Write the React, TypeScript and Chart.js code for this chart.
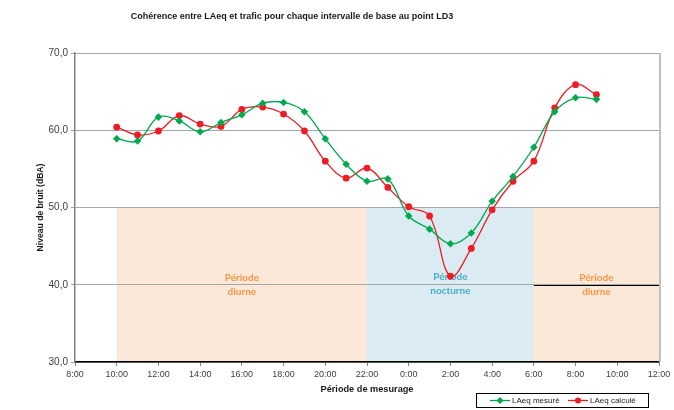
import React, { useEffect, useRef } from 'react';
import { Chart, registerables } from 'chart.js';

Chart.register(...registerables);

const chartTitle = 'Cohérence entre LAeq et trafic pour chaque intervalle de base au point LD3';
const xAxisTitle = 'Période de mesurage';
const yAxisTitle = 'Niveau de bruit (dBA)';
const seriesNames = ['LAeq mesuré', 'LAeq calculé'];

// hours since midnight of day 1 (24 = 0:00 next day)
const hours = [10, 11, 12, 13, 14, 15, 16, 17, 18, 19, 20, 21, 22, 23, 24, 25, 26, 27, 28, 29, 30, 31, 32, 33];
const laeqMesure = [58.9, 58.6, 61.7, 61.2, 59.8, 61.0, 62.0, 63.5, 63.6, 62.4, 58.9, 55.6, 53.4, 53.7, 48.9, 47.2, 45.3, 46.7, 50.8, 54.0, 57.8, 62.4, 64.2, 64.0];
const laeqCalcule = [60.4, 59.4, 59.9, 61.9, 60.8, 60.5, 62.7, 63.0, 62.1, 59.9, 56.0, 53.8, 55.1, 52.6, 50.1, 48.9, 41.1, 44.7, 49.7, 53.4, 56.0, 62.9, 65.9, 64.6];

const xMin = 8;
const xMax = 36;
const xStep = 2;
const yMin = 30;
const yMax = 70;
const yStep = 10;

const periodStart = [10, 22, 30];
const periodEnd = [22, 30, 36];
const periodTop = 50;
const periodBottom = 30;
const periodLabelValue = 40;
const periodLine1 = ['Période', 'Période', 'Période'];
const periodLine2 = ['diurne', 'nocturne', 'diurne'];
const periodFill = ['#fce8d8', '#daecf2', '#fce8d8'];
const periodText = ['#f79646', '#4bacc6', '#f79646'];

const GREEN = '#00a94f';
const RED = '#ee1c25';
const SANS = '"Liberation Sans", Arial, sans-serif';

const periodPlugin = {
  id: 'periods',
  beforeDraw(chart: any) {
    const { ctx, scales } = chart;
    const x = scales.x;
    const y = scales.y;
    ctx.save();
    const yT = y.getPixelForValue(periodTop);
    const yB = y.getPixelForValue(periodBottom);
    periodStart.forEach((s, i) => {
      const x0 = x.getPixelForValue(s);
      const x1 = x.getPixelForValue(periodEnd[i]);
      ctx.fillStyle = periodFill[i];
      ctx.fillRect(x0, yT, x1 - x0, yB - yT);
    });
    ctx.restore();
  },
  beforeDatasetsDraw(chart: any) {
    const { ctx, scales, chartArea } = chart;
    const x = scales.x;
    const y = scales.y;
    ctx.save();
    // black line segment over last period (as in the original)
    const last = periodStart.length - 1;
    const yl = Math.round(y.getPixelForValue(periodLabelValue)) + 0.5;
    ctx.strokeStyle = '#000';
    ctx.lineWidth = 1;
    ctx.beginPath();
    ctx.moveTo(x.getPixelForValue(periodStart[last]), yl);
    ctx.lineTo(x.getPixelForValue(periodEnd[last]), yl);
    ctx.stroke();
    // right border of plot area
    ctx.strokeStyle = '#c0c0c0';
    ctx.lineWidth = 2;
    ctx.beginPath();
    ctx.moveTo(chartArea.right + 1, chartArea.top);
    ctx.lineTo(chartArea.right + 1, chartArea.bottom);
    ctx.stroke();
    // period labels
    ctx.font = 'bold 10px Lato, "Open Sans", sans-serif';
    ctx.textAlign = 'center';
    ctx.textBaseline = 'middle';
    periodStart.forEach((s, i) => {
      const cx = (x.getPixelForValue(s) + x.getPixelForValue(periodEnd[i])) / 2;
      const cy = y.getPixelForValue(periodLabelValue) + (i === 1 ? -1.5 : 0);
      ctx.fillStyle = periodText[i];
      ctx.fillText(periodLine1[i], cx, cy - 6.5);
      ctx.fillText(periodLine2[i], cx, cy + 7.5);
    });
    ctx.restore();
  },
  afterDraw(chart: any) {
    const { ctx } = chart;
    ctx.save();
    // title
    ctx.font = 'bold 9px ' + SANS;
    ctx.fillStyle = '#1a1a1a';
    ctx.textAlign = 'center';
    ctx.textBaseline = 'middle';
    ctx.fillText(chartTitle, 292, 17);
    // legend
    const bx = 476.5, by = 393.5, bw = 172, bh = 14;
    ctx.strokeStyle = '#000';
    ctx.lineWidth = 1;
    ctx.strokeRect(bx, by, bw, bh);
    const colors = [GREEN, RED];
    const styles = ['rectRot', 'circle'];
    const starts = [490, 568];
    ctx.font = '8px ' + SANS;
    ctx.textAlign = 'left';
    seriesNames.forEach((name, i) => {
      const lx = starts[i];
      const ly = by + bh / 2;
      ctx.strokeStyle = colors[i];
      ctx.lineWidth = 1.3;
      ctx.beginPath();
      ctx.moveTo(lx, ly);
      ctx.lineTo(lx + 20, ly);
      ctx.stroke();
      ctx.fillStyle = colors[i];
      ctx.beginPath();
      if (styles[i] === 'circle') {
        ctx.arc(lx + 10, ly, 3, 0, Math.PI * 2);
      } else {
        ctx.moveTo(lx + 10, ly - 3.5);
        ctx.lineTo(lx + 13.5, ly);
        ctx.lineTo(lx + 10, ly + 3.5);
        ctx.lineTo(lx + 6.5, ly);
        ctx.closePath();
      }
      ctx.fill();
      ctx.fillStyle = '#222';
      ctx.fillText(name, lx + 22, ly + 0.5);
    });
    ctx.restore();
  },
};

export default function App() {
  const ref = useRef<HTMLCanvasElement | null>(null);

  useEffect(() => {
    if (!ref.current) return;
    const chart = new Chart(ref.current, {
      type: 'line',
      data: {
        datasets: [
          {
            label: seriesNames[0],
            data: hours.map((h, i) => ({ x: h, y: laeqMesure[i] })),
            borderColor: GREEN,
            backgroundColor: GREEN,
            borderWidth: 1.3,
            pointStyle: 'rectRot',
            pointRadius: 3.8,
            pointBorderWidth: 0,
            tension: 0.38,
          },
          {
            label: seriesNames[1],
            data: hours.map((h, i) => ({ x: h, y: laeqCalcule[i] })),
            borderColor: RED,
            backgroundColor: RED,
            borderWidth: 1.3,
            pointStyle: 'circle',
            pointRadius: 3.4,
            pointBorderWidth: 0,
            tension: 0.38,
          },
        ],
      },
      options: {
        responsive: false,
        animation: false,
        devicePixelRatio: 1,
        layout: { padding: { top: 53, right: 15, left: 0, bottom: 0 } },
        plugins: {
          legend: { display: false },
          title: { display: false },
          tooltip: { enabled: false },
        },
        scales: {
          x: {
            type: 'linear',
            min: xMin,
            max: xMax,
            afterFit: (s: any) => {
              s.height = 48;
            },
            ticks: {
              stepSize: xStep,
              color: '#404040',
              font: { family: SANS, size: 9 },
              padding: 3,
              maxRotation: 0,
              callback: (v: any) => `${Number(v) % 24}:00`,
            },
            grid: {
              drawOnChartArea: false,
              drawTicks: true,
              tickLength: 4,
              color: '#808080',
            },
            border: { color: '#000', width: 1.5 },
            title: {
              display: true,
              text: xAxisTitle,
              color: '#1a1a1a',
              font: { family: SANS, size: 9.2, weight: 'bold' },
              padding: { top: 0, bottom: 15 },
            },
          },
          y: {
            min: yMin,
            max: yMax,
            afterFit: (s: any) => {
              s.width = 75;
            },
            ticks: {
              stepSize: yStep,
              color: '#404040',
              font: { family: SANS, size: 10 },
              padding: 3,
              callback: (v: any) => Number(v).toFixed(1).replace('.', ','),
            },
            grid: {
              color: '#a6a6a6',
              lineWidth: 1,
              drawTicks: true,
              tickLength: 4,
            },
            border: { color: '#808080', width: 1.5 },
            title: {
              display: true,
              text: yAxisTitle,
              color: '#1a1a1a',
              font: { family: SANS, size: 8.6, weight: 'bold' },
              padding: { top: 35, bottom: 0 },
            },
          },
        },
      },
      plugins: [periodPlugin],
    } as any);
    return () => chart.destroy();
  }, []);

  return (
    <div style={{ position: 'fixed', left: 0, top: 0, width: 674, height: 410, background: '#fff' }}>
      <canvas ref={ref} width={674} height={410} style={{ width: 674, height: 410, display: 'block' }} />
    </div>
  );
}
